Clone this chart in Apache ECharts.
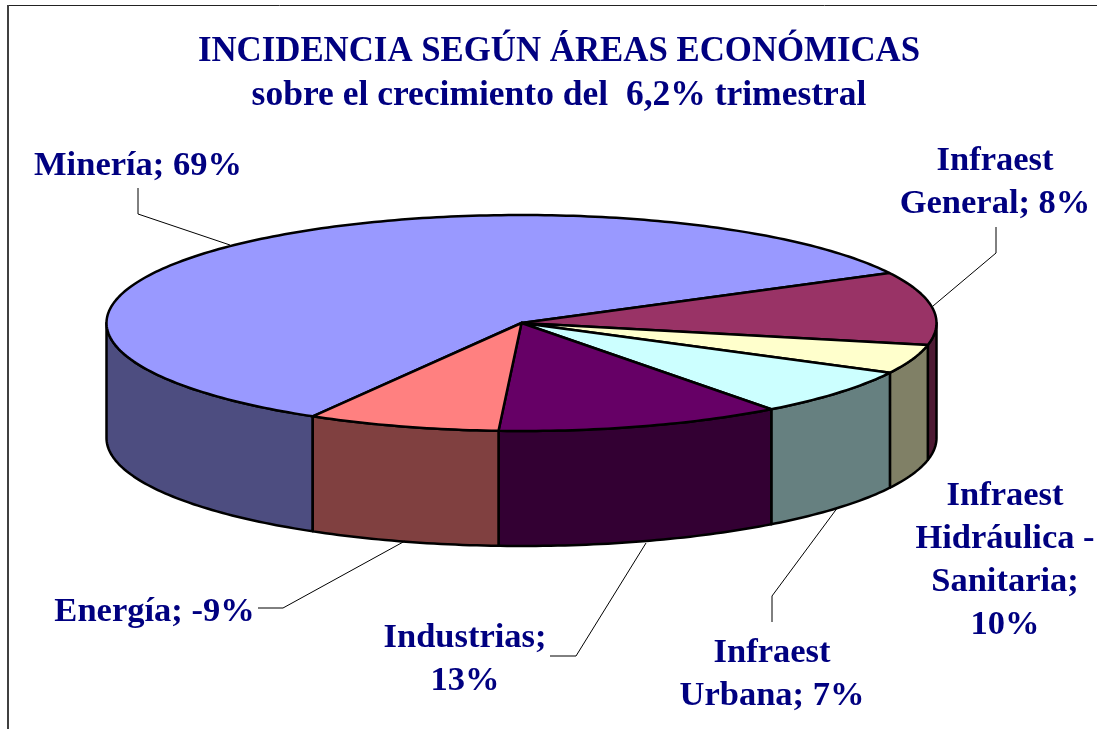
<!DOCTYPE html>
<html>
<head>
    <meta charset="UTF-8">
    <title>Incidencia según áreas económicas</title>
    <script src="https://cdnjs.cloudflare.com/ajax/libs/echarts/6.0.0/echarts.min.js"></script>
    <style>
        html, body { margin: 0; padding: 0; background: #fff; }
        #main { width: 1097px; height: 729px; }
    </style>
</head>
<body>
    <div id="main"></div>

    <script>
        // Data
        var categories = ['Minería', 'Infraest\nGeneral', 'Infraest\nHidráulica -\nSanitaria', 'Infraest\nUrbana', 'Industrias', 'Energía'];
        var labelValues = [69, 8, 10, 7, 13, -9];
        // size of each drawn wedge, percent of the circle (differs from the printed labels)
        var sliceShares = [58.9, 10.9, 4.35, 7.1, 11.15, 7.5];

        var topColors = ['#9999FF', '#993366', '#FFFFCC', '#CCFFFF', '#660066', '#FF8080'];
        var wallColors = ['#4D4D80', '#4D1A33', '#808066', '#668080', '#330033', '#804040'];

        // Pie geometry
        var cx = 521.5, cy = 323, rx = 415, ry = 108, depth = 115;
        var firstAngle = 239.8; // where the first slice starts, slices run clockwise

        var labelFont = 'bold 34.5px "Liberation Serif", "Times New Roman", serif';
        var navy = '#000080';

        function edgePoint(deg, dy) {
            var a = deg * Math.PI / 180;
            return [cx + rx * Math.cos(a), cy - ry * Math.sin(a) + (dy || 0)];
        }

        function sliceRange(index) {
            var total = sliceShares.reduce(function (s, v) { return s + v; }, 0);
            var start = firstAngle;
            for (var i = 0; i < index; i++) {
                start -= sliceShares[i] / total * 360;
            }
            return [start, start - sliceShares[index] / total * 360];
        }

        // Top face of a slice
        function renderTop(params, api) {
            var i = api.value(0);
            var range = sliceRange(i);
            var points = [[cx, cy]];
            for (var a = range[0]; a > range[1]; a -= 1) {
                points.push(edgePoint(a));
            }
            points.push(edgePoint(range[1]));
            return {
                type: 'polygon',
                shape: { points: points },
                style: { fill: topColors[i], stroke: '#000', lineWidth: 2.5, lineJoin: 'round' }
            };
        }

        // Outer wall of a slice, only the part facing the viewer
        function renderWall(params, api) {
            var i = api.value(0);
            var range = sliceRange(i);
            var bands = [[360, 180], [0, -180]];
            var children = [];
            bands.forEach(function (band) {
                var hi = Math.min(range[0], band[0]);
                var lo = Math.max(range[1], band[1]);
                if (hi <= lo) return;
                var upper = [], lower = [];
                for (var a = hi; a > lo; a -= 1) {
                    upper.push(edgePoint(a));
                    lower.unshift(edgePoint(a, depth));
                }
                upper.push(edgePoint(lo));
                lower.unshift(edgePoint(lo, depth));
                children.push({
                    type: 'polygon',
                    shape: { points: upper.concat(lower) },
                    style: { fill: wallColors[i], stroke: '#000', lineWidth: 2.5, lineJoin: 'round' }
                });
            });
            return { type: 'group', children: children };
        }

        var seriesData = sliceShares.map(function (v, i) {
            return { name: categories[i].replace(/\n/g, ' '), value: [i, v] };
        });

        // Label text, the way they wrap in the picture
        var separators = [' ', ' ', '\n', ' ', '\n', ' '];
        var labelTexts = categories.map(function (c, i) {
            return c + ';' + separators[i] + labelValues[i] + '%';
        });
        var labelPlaces = [[138, 166], [995, 183], [1005, 561], [772, 675], [465, 660], [154.5, 612]];

        // Leader lines from label to slice
        var leaders = [
            [[138, 188], [138, 214], [230, 245]],
            [[996, 227], [996, 253], [933, 306]],
            [[772, 622], [772, 596], [838, 507]],
            [[550, 656], [576, 656], [646, 543]],
            [[258, 608], [283, 608], [405, 541]]
        ];

        var graphics = [
            // frame of the picture
            { type: 'line', z: 1, shape: { x1: 7, y1: 5.5, x2: 1097, y2: 5.5 }, style: { stroke: '#222', lineWidth: 1 } },
            { type: 'line', z: 1, shape: { x1: 8, y1: 5, x2: 8, y2: 729 }, style: { stroke: '#404040', lineWidth: 2 } }
        ];
        leaders.forEach(function (pts) {
            graphics.push({ type: 'polyline', z: 20, shape: { points: pts }, style: { fill: 'none', stroke: '#000', lineWidth: 1 } });
        });
        labelTexts.forEach(function (t, i) {
            graphics.push({
                type: 'text',
                z: 30,
                x: labelPlaces[i][0],
                y: labelPlaces[i][1],
                style: {
                    text: t,
                    font: labelFont,
                    fill: navy,
                    align: 'center',
                    verticalAlign: 'middle',
                    lineHeight: 43
                }
            });
        });

        var myChart = echarts.init(document.getElementById('main'), null, { renderer: 'canvas' });
        myChart.setOption({
            animation: false,
            backgroundColor: '#fff',
            title: [
                {
                    text: 'INCIDENCIA SEGÚN ÁREAS ECONÓMICAS',
                    left: 554, top: 30, textAlign: 'center',
                    textStyle: { color: navy, fontFamily: '"Liberation Serif", serif', fontWeight: 'bold', fontSize: 34.8 }
                },
                {
                    text: 'sobre el crecimiento del  6,2% trimestral',
                    left: 554, top: 73, textAlign: 'center',
                    textStyle: { color: navy, fontFamily: '"Liberation Serif", serif', fontWeight: 'bold', fontSize: 35.5 }
                }
            ],
            graphic: graphics,
            series: [
                { type: 'custom', coordinateSystem: 'none', silent: true, z: 2, renderItem: renderWall, data: seriesData },
                { type: 'custom', coordinateSystem: 'none', silent: true, z: 3, renderItem: renderTop, data: seriesData }
            ]
        });
    </script>
</body>
</html>
